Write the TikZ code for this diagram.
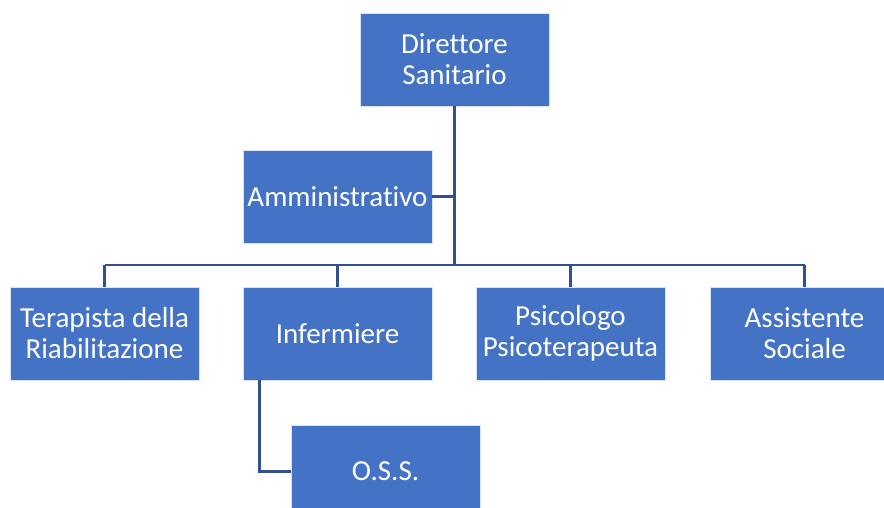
\documentclass[tikz,border=0pt]{standalone}
\usepackage{fontspec}
\setmainfont{Carlito}[Ligatures={NoCommon}]
\definecolor{boxblue}{HTML}{4472C4}
\definecolor{linkblue}{HTML}{2F528F}
\begin{document}
\begin{tikzpicture}[x=1pt,y=-1pt,
	box/.style={fill=boxblue,draw=white!80!boxblue,line width=0.8pt,text=white,
		minimum width=189pt,minimum height=93pt,inner sep=0pt,align=center,
		font=\fontsize{29}{31}\selectfont},
	link/.style={draw=linkblue,line width=2.5pt}]
	\useasboundingbox (0,0) rectangle (884,508);
	\clip (0,0) rectangle (884,508);
	\fill[white] (0,0) rectangle (884,508);
	\def\rowy{333.5} % riga dei ruoli
	\node[box] (direttore) at (454.5,59.5) {Direttore\\Sanitario};
	\node[box] (amministrativo) at (337.5,196.5) {Amministrativo};
	\node[box] (terapista) at (104.5,\rowy) {Terapista della\\Riabilitazione};
	\node[box] (infermiere) at (337.5,\rowy) {Infermiere};
	\node[box] (psicologo) at (570.5,\rowy) {Psicologo\\Psicoterapeuta};
	\node[box] (assistente) at (804.5,\rowy) {Assistente\\Sociale};
	\node[box] (oss) at (385.5,471.5) {O.S.S.};
	\coordinate (hub) at (454.5,265);
	\draw[link] (direttore.south) -- (hub);
	\draw[link] (amministrativo.east) -- (amministrativo.east -| hub);
	\draw[link] (terapista.north |- hub) -- (assistente.north |- hub);
	\foreach \n in {terapista,infermiere,psicologo,assistente}
		\draw[link] (\n.north |- hub) -- (\n.north);
	\draw[link] ([xshift=17pt]infermiere.south west) |- (oss.west);
\end{tikzpicture}
\end{document}
